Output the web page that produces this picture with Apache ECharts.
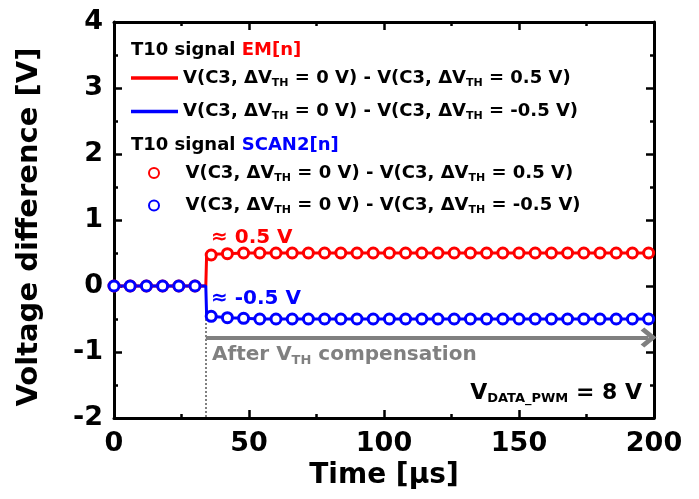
<!DOCTYPE html>
<html>
<head>
<meta charset="utf-8">
<script src="https://cdn.jsdelivr.net/npm/echarts@6/dist/echarts.min.js"></script>
<style>
  html, body { margin: 0; padding: 0; background: #fff; }
  #chart { width: 699px; height: 499px; }
</style>
</head>
<body>
<div id="chart"></div>
<script>
// line traces (T10 signal EM[n])
var lineTime = [0, 34, 34.3, 36, 42, 48, 54, 200];
var emPosLine = [0, 0, 0.47, 0.48, 0.49, 0.5, 0.5, 0.5];
var emNegLine = [0, 0, -0.45, -0.46, -0.48, -0.49, -0.5, -0.5];

// circle markers (T10 signal SCAN2[n])
var markTime = [0, 6, 12, 18, 24, 30, 36, 42, 48, 54, 60, 66, 72, 78, 84, 90, 96,
  102, 108, 114, 120, 126, 132, 138, 144, 150, 156, 162, 168, 174, 180, 186, 192, 198];
var scanPos = [0, 0, 0, 0, 0, 0, 0.47, 0.49, 0.5, 0.5, 0.5, 0.5, 0.5, 0.5, 0.5, 0.5, 0.5,
  0.5, 0.5, 0.5, 0.5, 0.5, 0.5, 0.5, 0.5, 0.5, 0.5, 0.5, 0.5, 0.5, 0.5, 0.5, 0.5, 0.5];
var scanNeg = [0, 0, 0, 0, 0, 0, -0.46, -0.48, -0.49, -0.5, -0.5, -0.5, -0.5, -0.5, -0.5, -0.5, -0.5,
  -0.5, -0.5, -0.5, -0.5, -0.5, -0.5, -0.5, -0.5, -0.5, -0.5, -0.5, -0.5, -0.5, -0.5, -0.5, -0.5, -0.5];

// annotation positions in data units
var stepTime = 34;
var arrowLevel = -0.78;

var FONT = 'DejaVu Sans';
var RED = '#ff0000';
var BLUE = '#0000ff';
var GRAY = '#808080';

function pairs(xs, ys) {
  return xs.map(function (x, i) { return [x, ys[i]]; });
}

var subRich = {
  n: { fontFamily: FONT, fontWeight: 'bold', fontSize: 18, color: '#000' },
  s: { fontFamily: FONT, fontWeight: 'bold', fontSize: 11, color: '#000', padding: [10, 0, 0, 0] }
};
var posText = '{n|V(C3, ΔV}{s|TH}{n| = 0 V) - V(C3, ΔV}{s|TH}{n| = 0.5 V)}';
var negText = '{n|V(C3, ΔV}{s|TH}{n| = 0 V) - V(C3, ΔV}{s|TH}{n| = -0.5 V)}';

function legendFmt(name) {
  return name.indexOf('neg') >= 0 ? negText : posText;
}

var chart = echarts.init(document.getElementById('chart'));

var axisCommon = {
  axisLine: { onZero: false, lineStyle: { color: '#000', width: 3 } },
  axisTick: { inside: true, length: 8, lineStyle: { color: '#000', width: 2.5 } },
  minorTick: { show: true, splitNumber: 2, length: 4, lineStyle: { color: '#000', width: 2.5 } },
  splitLine: { show: false }
};

var option = {
  backgroundColor: '#fff',
  animation: false,
  grid: { left: 114, right: 45, top: 22, bottom: 81 },
  xAxis: [
    Object.assign({
      type: 'value', min: 0, max: 200, interval: 50,
      name: 'Time [µs]', nameLocation: 'middle', nameGap: 41,
      nameTextStyle: { fontFamily: FONT, fontWeight: 'bold', fontSize: 28, color: '#000' },
      axisLabel: { fontFamily: FONT, fontWeight: 'bold', fontSize: 27, color: '#000', margin: 12 }
    }, axisCommon),
    Object.assign({
      type: 'value', min: 0, max: 200, interval: 50, position: 'top',
      axisLabel: { show: false }
    }, axisCommon)
  ],
  yAxis: [
    Object.assign({
      type: 'value', min: -2, max: 4, interval: 1,
      name: 'Voltage difference [V]', nameLocation: 'middle', nameGap: 70,
      nameTextStyle: { fontFamily: FONT, fontWeight: 'bold', fontSize: 29, color: '#000', padding: [0, 14, 0, 0] },
      axisLabel: { fontFamily: FONT, fontWeight: 'bold', fontSize: 27, color: '#000', margin: 11 }
    }, axisCommon),
    Object.assign({
      type: 'value', min: -2, max: 4, interval: 1, position: 'right',
      axisLabel: { show: false }
    }, axisCommon)
  ],
  legend: [
    {
      data: [{ name: 'EM_pos', icon: 'rect' }, { name: 'EM_neg', icon: 'rect' }],
      orient: 'vertical', left: 131, top: 69, padding: 0,
      itemWidth: 47, itemHeight: 3.5, itemGap: 14,
      formatter: legendFmt,
      textStyle: { fontFamily: FONT, fontWeight: 'bold', fontSize: 18, color: '#000', rich: subRich },
      selectedMode: false
    },
    {
      data: [{ name: 'SC_pos', icon: 'circle' }, { name: 'SC_neg', icon: 'circle' }],
      orient: 'vertical', left: 148, top: 164, padding: 0,
      itemWidth: 47, itemHeight: 10, itemGap: 13,
      formatter: legendFmt,
      textStyle: { fontFamily: FONT, fontWeight: 'bold', fontSize: 18, color: '#000', rich: subRich, padding: [0, 0, 0, 3] },
      selectedMode: false
    }
  ],
  series: [
    {
      name: 'EM_pos', type: 'line', data: pairs(lineTime, emPosLine),
      symbol: 'none', lineStyle: { color: RED, width: 3 }, itemStyle: { color: RED }, z: 2
    },
    {
      name: 'EM_neg', type: 'line', data: pairs(lineTime, emNegLine),
      symbol: 'none', lineStyle: { color: BLUE, width: 3 }, itemStyle: { color: BLUE }, z: 3,
      markLine: {
        silent: true, animation: false,
        label: { show: false },
        data: [
          [
            { coord: [stepTime, -0.5], symbol: 'none', lineStyle: { color: GRAY, width: 2, type: [2, 2] } },
            { coord: [stepTime, -2], symbol: 'none' }
          ],
          [
            { coord: [stepTime, arrowLevel], symbol: 'none', lineStyle: { color: GRAY, width: 4, type: 'solid' } },
            {
              coord: [198, arrowLevel],
              symbol: 'path://M10,0 L20,10 L17,13 L10,6 L3,13 L0,10 Z',
              symbolSize: [20, 16]
            }
          ]
        ],
        lineStyle: { color: GRAY, width: 2, type: [2, 2] }
      }
    },
    {
      name: 'SC_pos', type: 'scatter', data: pairs(markTime, scanPos),
      symbol: 'circle', symbolSize: 10, clip: false,
      itemStyle: { color: '#fff', borderColor: RED, borderWidth: 3, opacity: 1 }, z: 4
    },
    {
      name: 'SC_neg', type: 'scatter', data: pairs(markTime, scanNeg),
      symbol: 'circle', symbolSize: 10, clip: false,
      itemStyle: { color: '#fff', borderColor: BLUE, borderWidth: 3, opacity: 1 }, z: 5
    }
  ],
  graphic: [
    {
      type: 'text', x: 131, y: 50,
      style: {
        text: '{k|T10 signal }{r|EM[n]}', verticalAlign: 'middle',
        rich: {
          k: { fontFamily: FONT, fontWeight: 'bold', fontSize: 18, fill: '#000' },
          r: { fontFamily: FONT, fontWeight: 'bold', fontSize: 18, fill: RED }
        }
      }
    },
    {
      type: 'text', x: 131, y: 145,
      style: {
        text: '{k|T10 signal }{b|SCAN2[n]}', verticalAlign: 'middle',
        rich: {
          k: { fontFamily: FONT, fontWeight: 'bold', fontSize: 18, fill: '#000' },
          b: { fontFamily: FONT, fontWeight: 'bold', fontSize: 18, fill: BLUE }
        }
      }
    },
    {
      type: 'text', x: 211, y: 238,
      style: { text: '≈ 0.5 V', fontFamily: FONT, fontWeight: 'bold', fontSize: 20, fill: RED, verticalAlign: 'middle' }
    },
    {
      type: 'text', x: 211, y: 299,
      style: { text: '≈ -0.5 V', fontFamily: FONT, fontWeight: 'bold', fontSize: 20, fill: BLUE, verticalAlign: 'middle' }
    },
    {
      type: 'text', x: 212, y: 355,
      style: {
        text: '{n|After V}{s|TH}{n| compensation}', verticalAlign: 'middle',
        rich: {
          n: { fontFamily: FONT, fontWeight: 'bold', fontSize: 20, fill: GRAY },
          s: { fontFamily: FONT, fontWeight: 'bold', fontSize: 13, fill: GRAY, padding: [11, 0, 0, 0] }
        }
      }
    },
    {
      type: 'text', x: 642, y: 393,
      style: {
        text: '{n|V}{s|DATA_PWM}{n| = 8 V}', align: 'right', verticalAlign: 'middle',
        rich: {
          n: { fontFamily: FONT, fontWeight: 'bold', fontSize: 22, fill: '#000' },
          s: { fontFamily: FONT, fontWeight: 'bold', fontSize: 13, fill: '#000', padding: [12, 0, 0, 0] }
        }
      }
    }
  ]
};

chart.setOption(option);
</script>
</body>
</html>
